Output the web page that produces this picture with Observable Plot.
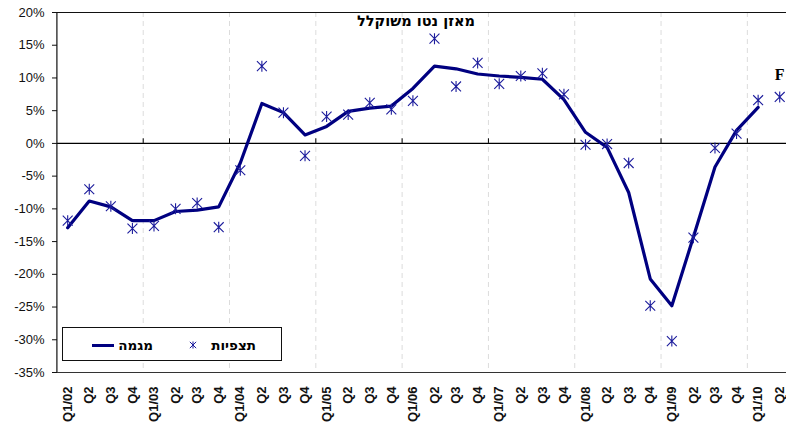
<!DOCTYPE html>
<html><head><meta charset="utf-8">
<script src="https://cdn.jsdelivr.net/npm/d3@7"></script>
<script src="https://cdn.jsdelivr.net/npm/@observablehq/plot@0.6"></script>
<style>
html,body{margin:0;padding:0;background:#fff;overflow:hidden}
#wrap{position:relative;width:786px;height:427px;font-family:"Liberation Sans",Arial,sans-serif}
.legend{position:absolute;left:62px;top:327px;width:220px;height:34px;border:1px solid #111;background:#fff;box-sizing:border-box}
.legend span{position:absolute;font-family:"DejaVu Sans",sans-serif;font-weight:bold;font-size:13.5px;line-height:16px;top:9px;color:#000;white-space:nowrap}
.legend .ln{position:absolute;left:29px;top:16px;width:22px;height:3px;background:#000080}
.legend svg{position:absolute;left:123px;top:10px}
</style></head><body><div id="wrap"></div>
<script>
const quarters = ["Q1/02","Q2","Q3","Q4","Q1/03","Q2","Q3","Q4","Q1/04","Q2","Q3","Q4",
  "Q1/05","Q2","Q3","Q4","Q1/06","Q2","Q3","Q4","Q1/07","Q2","Q3","Q4",
  "Q1/08","Q2","Q3","Q4","Q1/09","Q2","Q3","Q4","Q1/10","Q2"];
const trend = [-12.9,-8.8,-9.7,-11.8,-11.8,-10.4,-10.2,-9.7,-3.0,6.1,4.7,1.3,
  2.6,4.9,5.4,5.7,8.4,11.8,11.4,10.6,10.3,10.1,9.8,6.7,
  1.7,-0.6,-7.5,-20.7,-24.8,-14.3,-3.6,2.0,5.5,null];
const observed = [-11.8,-7.0,-9.6,-13.0,-12.6,-10.0,-9.1,-12.8,-4.1,11.8,4.7,-1.9,
  4.1,4.4,6.2,5.2,6.5,16.0,8.7,12.3,9.1,10.3,10.7,7.5,
  -0.2,-0.1,-3.0,-24.8,-30.2,-14.4,-0.7,1.5,6.6,7.1];
const yTicks = [-35,-30,-25,-20,-15,-10,-5,0,5,10,15,20];
const title = "מאזן נטו משוקלל";
const seriesNames = ["מגמה","תצפיות"];
const forecastLabel = "F";

const idx = quarters.map((_, i) => i);
const data = idx.map(i => ({i, trend: trend[i], obs: observed[i]}));
const yearStarts = idx.filter(i => i > 0 && quarters[i].startsWith("Q1/")).map(i => i - 0.5);
const font = '"Liberation Sans", Arial, sans-serif';

// Excel-style asterisk: vertical bar + X
const starX = {
  draw(ctx, size) {
    const r = Math.sqrt(size / Math.PI);
    const a = r * 0.9;
    ctx.moveTo(0, -r); ctx.lineTo(0, r);
    ctx.moveTo(-a, -a); ctx.lineTo(a, a);
    ctx.moveTo(-a, a); ctx.lineTo(a, -a);
  }
};

const plot = Plot.plot({
  width: 786, height: 427,
  marginLeft: 57, marginRight: 0, marginTop: 12, marginBottom: 55,
  style: {fontFamily: font, background: "white", overflow: "visible", color: "#111"},
  x: {type: "linear", domain: [-0.5, quarters.length - 0.5], range: [56.4, 790], axis: null},
  y: {domain: [-35, 20], axis: null},
  marks: [
    Plot.ruleX(yearStarts, {stroke: "#dcdcdc", strokeDasharray: "5,4", strokeWidth: 1}),
    Plot.ruleY([0], {stroke: "#000", strokeWidth: 1.3}),
    Plot.ruleX(yearStarts, {y1: 0, y2: 0.7, stroke: "#000", strokeWidth: 1}),
    Plot.ruleY([20], {stroke: "#111", strokeWidth: 1.2}),
    Plot.ruleY([-35], {stroke: "#333", strokeWidth: 1.2}),
    Plot.ruleX([-0.5], {stroke: "#111", strokeWidth: 1.2}),
    Plot.axisY({ticks: yTicks, tickFormat: d => d + "%", tickSize: 5, tickPadding: 8, fontSize: 13, stroke: "#111", label: null}),
    Plot.axisX({ticks: idx, tickFormat: i => quarters[i], tickRotate: -90, tickSize: 0, tickPadding: 14, fontSize: 13, fontWeight: "bold", label: null}),
    Plot.line(data.filter(d => d.trend != null), {x: "i", y: "trend", stroke: "#000080", strokeWidth: 3.2}),
    Plot.dot(data, {x: "i", y: "obs", symbol: starX, r: 5.5, stroke: "#1c1c9c", strokeWidth: 1.1}),
    Plot.text([data[data.length - 1]], {x: "i", y: "obs", text: () => forecastLabel, dy: -22, fontFamily: '"Liberation Serif", "Times New Roman", serif', fontWeight: "bold", fontSize: 16, fill: "#000"}),
    Plot.text([title], {frameAnchor: "top", dx: -6, dy: 3, lineAnchor: "top", fontFamily: '"DejaVu Sans", sans-serif', fontSize: 14.5, fontWeight: "bold", fill: "#000"})
  ]
});
const wrap = document.getElementById("wrap");
wrap.appendChild(plot);

const lg = document.createElement("div");
lg.className = "legend";
lg.innerHTML = `<div class="ln"></div><span style="right:128px">${seriesNames[0]}</span>
<svg width="14" height="14"><path transform="translate(7,7)" d="${d3.symbol(starX, 50 * Math.PI / 4)()}" stroke="#1c1c9c" stroke-width="1" fill="none"/></svg>
<span style="right:25px">${seriesNames[1]}</span>`;
wrap.appendChild(lg);
</script>
</body></html>
